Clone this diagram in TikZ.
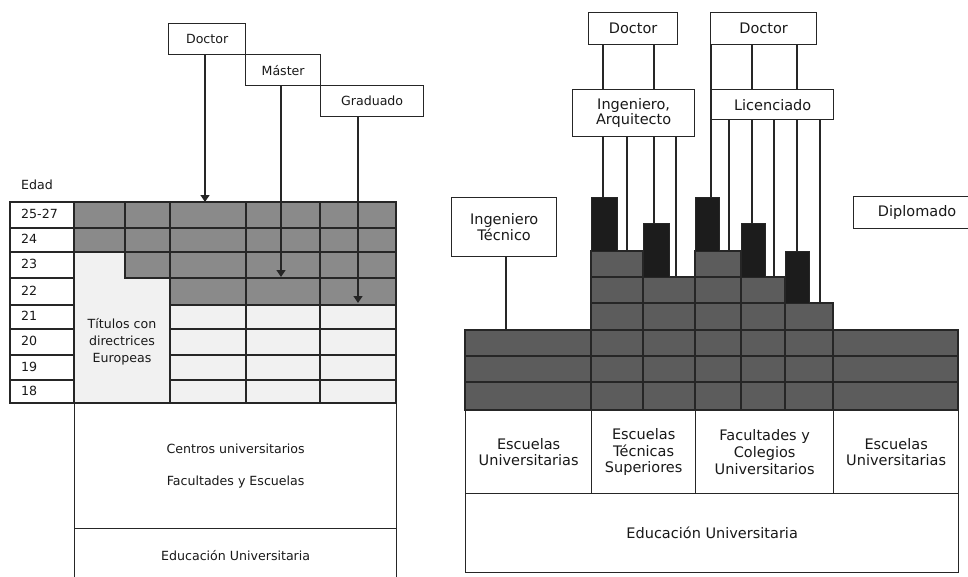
\documentclass[tikz,border=0pt]{standalone}
\usepackage{fontspec}
\setmainfont{DejaVu Sans}
\usetikzlibrary{arrows.meta}
\definecolor{lgray}{RGB}{138,138,138}
\definecolor{rgray}{RGB}{92,92,92}
\definecolor{pale}{RGB}{241,241,241}
\definecolor{barc}{RGB}{28,28,28}
\newcommand\lfnt{\fontsize{12.6}{17}\selectfont}
\newcommand\rfnt{\fontsize{14.5}{16.6}\selectfont}
\newcommand\bx[7]{\node[#1, anchor=north west, minimum width={(#5-#3)*1pt}, minimum height={(#6-#4)*1pt}] (#2) at (#3,#4) {#7};}
\begin{document}
\begin{tikzpicture}[x=1pt,y=-1pt,
  ln/.style={line width=1.3pt, draw=black!85},
  box/.style={ln, fill=white, inner sep=0pt, align=center, text=black!90},
  lbox/.style={box, font=\lfnt},
  rbox/.style={box, font=\rfnt},
  barst/.style={ln, fill=barc, inner sep=0pt},
  txt/.style={inner sep=0pt, text=black!90},
  arr/.style={ln, -{Triangle[width=9pt,length=7pt]}},
]
\useasboundingbox (0,0) rectangle (968,576);
\clip (0,0) rectangle (968,576);
\fill[white] (0,0) rectangle (968,576);

% ================= LEFT =================
% dark cells
\foreach \ya/\yb in {202/228,228/252}{
  \foreach \xa/\xb in {74/125,125/170,170/246,246/320,320/396}{
    \draw[ln,fill=lgray] (\xa,\ya) rectangle (\xb,\yb);}}
\foreach \xa/\xb in {125/170,170/246,246/320,320/396}{
  \draw[ln,fill=lgray] (\xa,252) rectangle (\xb,278);}
\foreach \xa/\xb in {170/246,246/320,320/396}{
  \draw[ln,fill=lgray] (\xa,278) rectangle (\xb,305);}
% light cells
\foreach \ya/\yb in {305/329,329/355,355/380,380/403}{
  \foreach \xa/\xb in {170/246,246/320,320/396}{
    \draw[ln,fill=pale] (\xa,\ya) rectangle (\xb,\yb);}}
% Titulos region
\draw[ln,fill=pale] (74,252) -- (125,252) -- (125,278) -- (170,278) -- (170,403) -- (74,403) -- cycle;
\node[txt, font=\lfnt, align=center] (tit) at (122,342) {Títulos con\\directrices\\Europeas};
% age column
\foreach \ya/\yb/\t [count=\i] in {202/228/25-27,228/252/24,252/278/23,278/305/22,305/329/21,329/355/20,355/380/19,380/403/18}{
  \draw[ln,fill=white] (10,\ya) rectangle (74,\yb);
  \node[txt, anchor=west, font=\lfnt] (age\i) at (21,{(\ya+\yb)/2-1}) {\t};}
\node[txt, anchor=west, font=\lfnt] (edad) at (21,185) {Edad};

% lower boxes
\bx{lbox}{centros}{74}{403}{396}{528}{Centros universitarios\\[15pt]Facultades y Escuelas}
\bx{lbox}{eduL}{74}{528}{396}{582}{Educación Universitaria}

% title boxes
\bx{lbox}{docL}{168}{23}{245}{54}{Doctor}
\bx{lbox}{masL}{245}{54}{320}{85}{Máster}
\bx{lbox}{graL}{320}{85}{423}{116}{Graduado}

% arrows
\coordinate (tD) at (205,202);
\coordinate (tM) at (281,277);
\coordinate (tG) at (358,303);
\draw[arr] (docL.south -| tD) -- (tD);
\draw[arr] (masL.south -| tM) -- (tM);
\draw[arr] (graL.south -| tG) -- (tG);

% ================= RIGHT =================
\foreach \xa/\xb in {591/643,695/741}{
  \foreach \ya/\yb in {251/277,277/303,303/330,330/356,356/382,382/410}{
    \draw[ln,fill=rgray] (\xa,\ya) rectangle (\xb,\yb);}}
\foreach \xa/\xb in {643/695,741/785}{
  \foreach \ya/\yb in {277/303,303/330,330/356,356/382,382/410}{
    \draw[ln,fill=rgray] (\xa,\ya) rectangle (\xb,\yb);}}
\foreach \ya/\yb in {303/330,330/356,356/382,382/410}{
  \draw[ln,fill=rgray] (785,\ya) rectangle (833,\yb);}
\foreach \xa/\xb in {465/591,833/958}{
  \foreach \ya/\yb in {330/356,356/382,382/410}{
    \draw[ln,fill=rgray] (\xa,\ya) rectangle (\xb,\yb);}}

% black bars
\bx{barst}{bar1}{591}{197}{617}{251}{}
\bx{barst}{bar2}{643}{223}{669}{277}{}
\bx{barst}{bar3}{695}{197}{719}{251}{}
\bx{barst}{bar4}{741}{223}{765}{277}{}
\bx{barst}{bar5}{785}{251}{809}{303}{}

% bottom boxes
\bx{rbox}{escU1}{465}{410}{591}{493}{Escuelas\\Universitarias}
\bx{rbox}{escT}{591}{410}{695}{493}{Escuelas\\Técnicas\\Superiores}
\bx{rbox}{fac}{695}{410}{833}{493}{Facultades y\\Colegios\\Universitarios}
\bx{rbox}{escU2}{833}{410}{958}{493}{Escuelas\\Universitarias}
\bx{rbox}{eduR}{465}{493}{958}{572}{Educación Universitaria}

% label boxes
\bx{rbox}{doc1}{588}{12}{677}{44}{Doctor}
\bx{rbox}{doc2}{710}{12}{816}{44}{Doctor}
\bx{rbox, font=\fontsize{14.5}{15}\selectfont}{ingarq}{572}{89}{694}{136}{Ingeniero,\\Arquitecto}
\bx{rbox}{lic}{711}{89}{833}{119}{Licenciado}
\bx{rbox}{ingtec}{451}{197}{556}{256}{Ingeniero\\Técnico}
\bx{rbox}{dipl}{853}{196}{980}{228}{Diplomado}

% connector x positions
\coordinate (c0) at (711,197);
\coordinate (c1) at (603,197);
\coordinate (c2) at (627,251);
\coordinate (c3) at (654,223);
\coordinate (c4) at (676,277);
\coordinate (c5) at (729,251);
\coordinate (c6) at (752,223);
\coordinate (c7) at (774,277);
\coordinate (c8) at (797,251);
\coordinate (c9) at (820,303);
\coordinate (cT) at (506,330);

\draw[ln] (doc1.south -| c1) -- (ingarq.north -| c1);
\draw[ln] (doc1.south -| c3) -- (ingarq.north -| c3);
\draw[ln] (doc2.south -| c0) -- (bar3.north -| c0);
\draw[ln] (doc2.south -| c6) -- (lic.north -| c6);
\draw[ln] (doc2.south -| c8) -- (lic.north -| c8);

\draw[ln] (ingarq.south -| c1) -- (bar1.north -| c1);
\draw[ln] (ingarq.south -| c2) -- (c2);
\draw[ln] (ingarq.south -| c3) -- (bar2.north -| c3);
\draw[ln] (ingarq.south -| c4) -- (c4);

\draw[ln] (lic.south -| c5) -- (c5);
\draw[ln] (lic.south -| c6) -- (bar4.north -| c6);
\draw[ln] (lic.south -| c7) -- (c7);
\draw[ln] (lic.south -| c8) -- (bar5.north -| c8);
\draw[ln] (lic.south -| c9) -- (c9);

\draw[ln] (ingtec.south -| cT) -- (cT);
\end{tikzpicture}
\end{document}
